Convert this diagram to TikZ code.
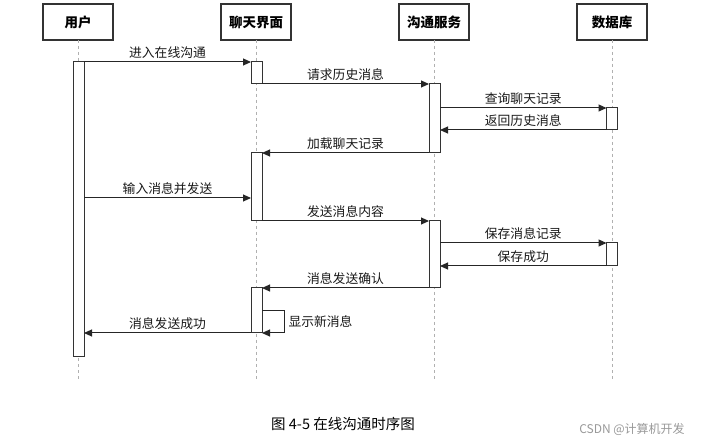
\documentclass[tikz,border=0pt]{standalone}
\usepackage{fontspec}
\setmainfont{Noto Sans CJK SC}
\usetikzlibrary{arrows.meta}
\definecolor{edge}{HTML}{333333}
\definecolor{life}{HTML}{B0B0B0}
\tikzset{
  x=1pt, y=-1pt,
  head/.style={draw=edge, line width=1.1pt, fill=white, minimum width=70pt, minimum height=36pt, anchor=north, inner sep=0pt, outer sep=0pt, font=\fontsize{13.5}{15}\selectfont\bfseries},
  act/.style={draw=edge, line width=1pt, fill=white, minimum width=11pt, anchor=north, inner sep=0pt, outer sep=0pt},
  lifeline/.style={draw=life, line width=0.6pt, dash pattern=on 3pt off 3pt},
  msg/.style={draw=black!85, line width=1pt, -{Triangle[length=8pt,width=7pt]}},
  lbl/.style={font=\fontsize{12.8}{14}\selectfont, inner sep=1pt, fill=white, text=black!90},
}
\begin{document}
\begin{tikzpicture}
\useasboundingbox[fill=white] (0,0) rectangle (701,443);
% headers
\node[head] (hu) at (78,4) {用户};
\node[head] (hc) at (256,4) {聊天界面};
\node[head] (hs) at (434,4) {沟通服务};
\node[head] (hd) at (612,4) {数据库};
% lifelines
\coordinate (eu) at (78,380);
\coordinate (ec) at (256,380);
\coordinate (es) at (434,380);
\coordinate (ed) at (612,380);
\draw[lifeline] (hu.south) -- (eu);
\draw[lifeline] (hc.south) -- (ec);
\draw[lifeline] (hs.south) -- (es);
\draw[lifeline] (hd.south) -- (ed);
% activations
\node[act, minimum height=294pt] (u1) at (78.5,62) {};
\node[act, minimum height=22pt] (c1) at (256.5,62) {};
\node[act, minimum height=69pt] (s1) at (434.5,84) {};
\node[act, minimum height=22pt] (d1) at (612,108) {};
\node[act, minimum height=68pt] (c2) at (256.5,153) {};
\node[act, minimum height=67pt] (s2) at (434.5,221) {};
\node[act, minimum height=23pt] (d2) at (612,243) {};
\node[act, minimum height=45pt] (c3) at (256.5,288) {};
% messages
\draw[msg] (u1.north east) -- node[lbl, above=2pt] {进入在线沟通} (c1.north west);
\draw[msg] (c1.south east) -- node[lbl, above=2pt] {请求历史消息} (s1.north west);
\draw[msg] (s1.east |- d1.north) -- node[lbl, above=2pt] {查询聊天记录} (d1.north west);
\draw[msg] (d1.south west) -- node[lbl, above=2pt] {返回历史消息} (s1.east |- d1.south);
\draw[msg] (s1.south west) -- node[lbl, above=2pt] {加载聊天记录} (c2.north east);
\coordinate (m5) at (0,198);
\draw[msg] (u1.east |- m5) -- node[lbl, above=2pt] {输入消息并发送} (c2.west |- m5);
\draw[msg] (c2.south east) -- node[lbl, above=2pt] {发送消息内容} (s2.north west);
\draw[msg] (s2.east |- d2.north) -- node[lbl, above=2pt] {保存消息记录} (d2.north west);
\draw[msg] (d2.south west) -- node[lbl, above=2pt] {保存成功} (s2.east |- d2.south);
\draw[msg] (s2.south west) -- node[lbl, above=2pt] {消息发送确认} (c3.north east);
\coordinate (self) at (0,311);
\coordinate (loop) at (284,0);
\draw[msg] (c3.east |- self) -- (loop |- self) -- node[lbl, right=3pt, fill=none] {显示新消息} (loop |- c3.south) -- (c3.south east);
\draw[msg] (c3.south west) -- node[lbl, above=2pt] {消息发送成功} (u1.east |- c3.south);
% caption
\node[font=\fontsize{14.5}{16}\selectfont] (cap) at (343,424) {图 4-5 在线沟通时序图};
\node[font=\fontsize{12}{14}\selectfont, text=black!40] (wm) at (632,429) {CSDN @计算机开发};
\end{tikzpicture}
\end{document}
